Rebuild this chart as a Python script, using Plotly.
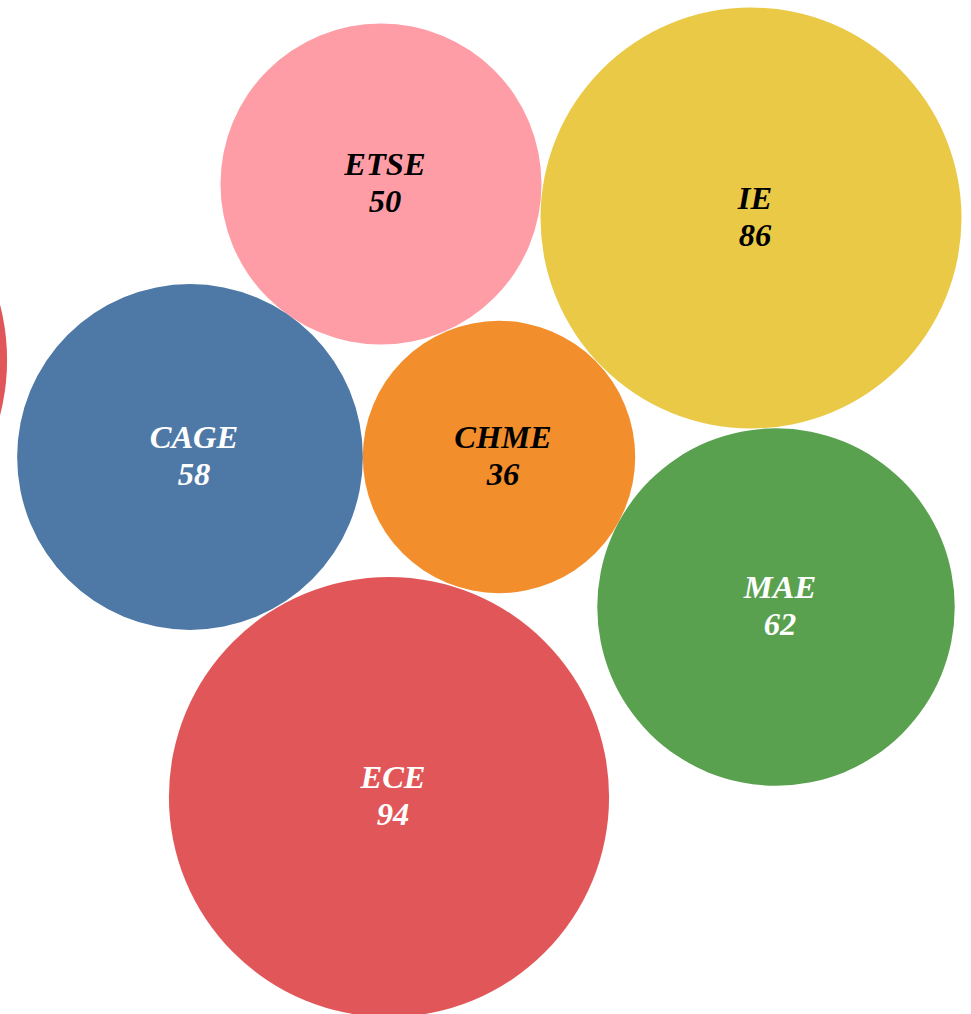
import numpy as np
import plotly.graph_objects as go

# ---- data ----
labels = ["ETSE", "IE", "CAGE", "CHME", "MAE", "ECE", ""]
values = [50, 86, 58, 36, 62, 94, 94]
colors = ["#FF9DA7", "#EAC947", "#4E79A7", "#F28E2B", "#59A14F", "#E15759", "#E15759"]
text_colors = ["black", "black", "white", "black", "white", "white", "white"]

# ---- packed layout (bubble centres, in plot units) ----
cx = [381, 751, 190, 499, 776, 389, -213]
cy = [184, 218, 457, 457, 607, 797, 360]
scale = 22.7  # radius = scale * sqrt(value)

W, H = 971, 1014
fig = go.Figure()

shapes = []
for x, y, v, c in zip(cx, cy, values, colors):
    r = scale * np.sqrt(v)
    shapes.append(dict(type="circle", xref="x", yref="y",
                       x0=x - r, x1=x + r, y0=y - r, y1=y + r,
                       fillcolor=c, line=dict(width=0), layer="below"))

font = dict(family="Liberation Serif", size=32.5, color=text_colors,
            weight="bold", style="italic")
tx = [x + 4 for x in cx]
fig.add_trace(go.Scatter(
    x=tx, y=[y - 17 for y in cy], mode="text", text=labels,
    textposition="middle center", textfont=font,
    hoverinfo="skip", showlegend=False))
fig.add_trace(go.Scatter(
    x=tx, y=[y + 20 for y in cy], mode="text",
    text=[str(v) if l else "" for l, v in zip(labels, values)],
    textposition="middle center", textfont=font,
    hoverinfo="skip", showlegend=False))

fig.update_layout(
    width=W, height=H, shapes=shapes,
    margin=dict(l=0, r=0, t=0, b=0),
    paper_bgcolor="white", plot_bgcolor="white",
    xaxis=dict(range=[0, W], visible=False, fixedrange=True),
    yaxis=dict(range=[H, 0], visible=False, fixedrange=True),
)
fig.write_html("out.html", config={"displayModeBar": False},
               post_script="document.body.style.margin='0';document.body.style.overflow='hidden';")
